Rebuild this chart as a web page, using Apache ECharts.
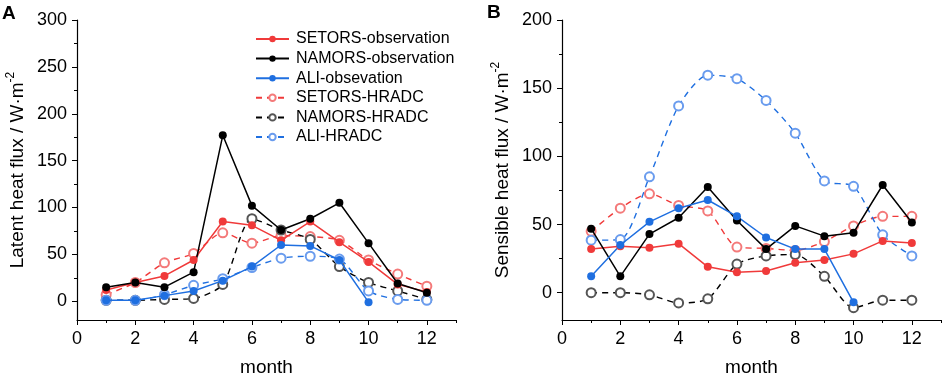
<!DOCTYPE html>
<html>
<head>
<meta charset="utf-8">
<script src="https://cdn.jsdelivr.net/npm/echarts@6/dist/echarts.min.js"></script>
<style>
  html, body { margin: 0; padding: 0; background: #fff; }
  #chart { width: 943px; height: 382px; }
</style>
</head>
<body>
<div id="chart"></div>
<script>
// 月份
const months = [1, 2, 3, 4, 5, 6, 7, 8, 9, 10, 11, 12];

// A: 潜热通量
const latentSetorsObs = [12, 20, 27, 44, 85, 81, 65, 85, 63, 42, 18, 10];
const latentNamorsObs = [15, 20, 15, 31, 177, 102, 76, 88, 105, 62, 19, 9];
const latentAliObs = [1, 1, 6, 11, 22, 37, 60, 59, 44, -1, null, null];
const latentSetorsHradc = [7, 20, 41, 51, 73, 62, 70, 69, 65, 44, 29, 16];
const latentNamorsHradc = [1, 1, 2, 3, 18, 88, 76, 66, 37, 20, 11, 2];
const latentAliHradc = [1, 1, 7, 17, 24, 36, 46, 48, 45, 11, 2, 1];

// B: 感热通量
const sensibleSetorsObs = [32, 34, 33, 36, 19, 15, 16, 22, 24, 28.5, 38, 36.5];
const sensibleNamorsObs = [47, 12, 43, 55, 77.5, 53, 32, 49, 41.5, 44, 79, 51.5];
const sensibleAliObs = [12, 35, 52, 62, 68, 56, 40.5, 32, 32, -7, null, null];
const sensibleSetorsHradc = [45, 62, 72.5, 64, 60, 33.5, 32.5, 31, 37.5, 49, 56, 56];
const sensibleNamorsHradc = [0, 0, -1.5, -7.5, -4.5, 21, 27, 28, 12, -11, -5.5, -5.5];
const sensibleAliHradc = [38.5, 39, 85, 137, 159.5, 157, 141, 117, 82, 78, 42.5, 27];

// 坐标轴刻度
const xMajorTicks = [0, 2, 4, 6, 8, 10, 12];
const xMinorTicks = [1, 3, 5, 7, 9, 11, 13];
const latentMajorTicks = [0, 50, 100, 150, 200, 250, 300];
const latentMinorTicks = [25, 75, 125, 175, 225, 275];
const sensibleMajorTicks = [0, 50, 100, 150, 200];
const sensibleMinorTicks = [25, 75, 125, 175];

const names = ['SETORS-observation', 'NAMORS-observation', 'ALI-obsevation',
               'SETORS-HRADC', 'NAMORS-HRADC', 'ALI-HRADC'];

const RED = '#f03a3a', BLACK = '#000000', BLUE = '#1f6fe0';
const RED_L = '#f47a7a', BLACK_L = '#555555', BLUE_L = '#6a9cee';
const FONT = 'Liberation Sans, Arial, sans-serif';

function pairs(vals) {
    return months.map((m, i) => [m, vals[i]]);
}

function obsSeries(name, vals, color, idx) {
    return {
        name: name, type: 'line', xAxisIndex: idx * 2, yAxisIndex: idx * 2,
        data: pairs(vals),
        symbol: 'circle', symbolSize: 8,
        itemStyle: { color: color },
        lineStyle: { color: color, width: 1.5 },
        z: 3
    };
}

function hradcSeries(name, vals, color, light, idx) {
    return {
        name: name, type: 'line', xAxisIndex: idx * 2, yAxisIndex: idx * 2,
        data: pairs(vals),
        smooth: 0.25,
        symbol: 'emptyCircle', symbolSize: 9,
        itemStyle: { color: light, borderColor: light, borderWidth: 1 },
        lineStyle: { color: color, width: 1.4, type: [6, 5] },
        z: 2
    };
}

function xAxes(idx) {
    const base = {
        type: 'value', gridIndex: idx, min: 0, max: 13, position: 'bottom',
        splitLine: { show: false }
    };
    return [
        Object.assign({}, base, {
            name: 'month', nameLocation: 'middle', nameGap: 38,
            nameTextStyle: { fontSize: 19, color: '#000', fontFamily: FONT },
            axisLine: { onZero: false, lineStyle: { color: '#000', width: 1.2 } },
            axisTick: { length: 5, customValues: xMajorTicks, lineStyle: { color: '#000' } },
            axisLabel: { customValues: xMajorTicks, fontSize: 18, color: '#000', margin: 10, fontFamily: FONT }
        }),
        Object.assign({}, base, {
            axisLine: { show: false, onZero: false },
            axisTick: { length: 3, customValues: xMinorTicks, lineStyle: { color: '#000' } },
            axisLabel: { show: false }
        })
    ];
}

function yAxes(idx, max, major, minor, title) {
    const base = {
        type: 'value', gridIndex: idx, min: -20, max: max, position: 'left',
        splitLine: { show: false }
    };
    return [
        Object.assign({}, base, {
            name: '{t|' + title + ' / W·m}{s|-2}',
            nameLocation: 'middle', nameGap: 50,
            nameTextStyle: {
                color: '#000', fontFamily: FONT,
                rich: {
                    t: { fontSize: 19, fontFamily: FONT, color: '#000', verticalAlign: 'bottom', lineHeight: 22 },
                    s: { fontSize: 12, fontFamily: FONT, color: '#000', verticalAlign: 'top', lineHeight: 22 }
                }
            },
            axisLine: { show: true, onZero: false, lineStyle: { color: '#000', width: 1.2 } },
            axisTick: { show: true, length: 5, customValues: major, lineStyle: { color: '#000' } },
            axisLabel: { customValues: major, fontSize: 18, color: '#000', margin: 10, fontFamily: FONT }
        }),
        Object.assign({}, base, {
            axisLine: { show: false, onZero: false },
            axisTick: { show: true, length: 3, customValues: minor, lineStyle: { color: '#000' } },
            axisLabel: { show: false }
        })
    ];
}

const chart = echarts.init(document.getElementById('chart'));

const option = {
    backgroundColor: '#fff',
    animation: false,
    textStyle: { fontFamily: FONT },
    grid: [
        { left: 77, top: 20, width: 379, height: 304 },
        { left: 562, top: 20, width: 379, height: 304 }
    ],
    graphic: [
        { type: 'text', left: 2, top: 4, style: { text: 'A', font: 'bold 19px ' + FONT, fill: '#000' } },
        { type: 'text', left: 487, top: 3, style: { text: 'B', font: 'bold 19px ' + FONT, fill: '#000' } }
    ],
    legend: {
        data: names,
        orient: 'vertical',
        left: 250, top: 26,
        itemWidth: 33, itemHeight: 8, itemGap: 3.6,
        textStyle: { fontSize: 16, color: '#000', fontFamily: FONT, padding: [0, 0, 0, 2] }
    },
    xAxis: xAxes(0).concat(xAxes(1)),
    yAxis: yAxes(0, 300, latentMajorTicks, latentMinorTicks, 'Latent heat flux')
        .concat(yAxes(1, 200, sensibleMajorTicks, sensibleMinorTicks, 'Sensible heat flux')),
    series: [
        hradcSeries(names[3], latentSetorsHradc, RED, RED_L, 0),
        hradcSeries(names[4], latentNamorsHradc, BLACK, BLACK_L, 0),
        hradcSeries(names[5], latentAliHradc, BLUE, BLUE_L, 0),
        obsSeries(names[0], latentSetorsObs, RED, 0),
        obsSeries(names[1], latentNamorsObs, BLACK, 0),
        obsSeries(names[2], latentAliObs, BLUE, 0),
        hradcSeries(names[3], sensibleSetorsHradc, RED, RED_L, 1),
        hradcSeries(names[4], sensibleNamorsHradc, BLACK, BLACK_L, 1),
        hradcSeries(names[5], sensibleAliHradc, BLUE, BLUE_L, 1),
        obsSeries(names[0], sensibleSetorsObs, RED, 1),
        obsSeries(names[1], sensibleNamorsObs, BLACK, 1),
        obsSeries(names[2], sensibleAliObs, BLUE, 1)
    ]
};

chart.setOption(option);
</script>
</body>
</html>
